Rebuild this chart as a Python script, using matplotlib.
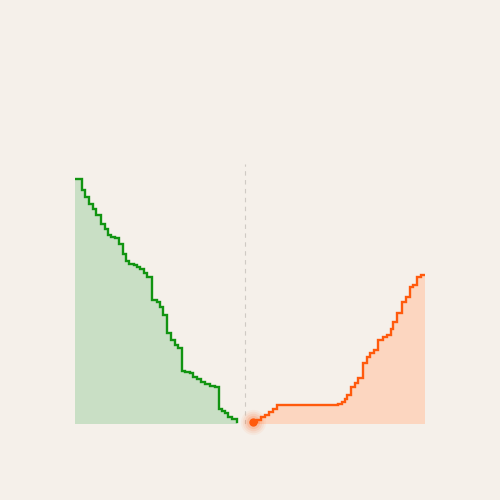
import numpy as np
import matplotlib
matplotlib.use("Agg")
import matplotlib.pyplot as plt

# order book depth (price, cumulative size)
bid_price = [91.50, 91.85, 92.02, 92.22, 92.39, 92.55, 92.82, 92.99, 93.15, 93.32,
             93.49, 93.69, 93.89, 94.05, 94.22, 94.44, 94.60, 94.77, 94.95, 95.10,
             95.37, 95.59, 95.75, 95.92, 96.12, 96.30, 96.50, 96.67, 96.84, 97.00,
             97.25, 97.42, 97.59, 97.80, 98.00, 98.25, 98.50, 98.70, 98.87, 99.00,
             99.17, 99.37, 99.59]
bid_depth = [49.0, 46.8, 45.4, 44.06, 43.06, 41.86, 40.06, 38.94, 37.74, 37.4,
             37.2, 35.94, 34.06, 32.54, 32.0, 31.74, 31.4, 30.94, 30.3, 29.5,
             24.8, 24.46, 23.46, 21.8, 18.26, 16.8, 15.8, 15.14, 10.66, 10.46,
             10.14, 9.34, 8.94, 8.46, 8.0, 7.66, 7.34, 2.94, 2.66, 2.14,
             1.46, 0.94, 0.34]

ask_price = [100.39, 100.59, 100.78, 101.00, 101.22, 101.42, 101.59, 104.67, 104.84, 105.00,
             105.12, 105.29, 105.50, 105.67, 105.89, 106.09, 106.25, 106.45, 106.67, 106.89,
             107.09, 107.29, 107.42, 107.62, 107.84, 108.04, 108.25, 108.42, 108.62, 108.79,
             108.98]
ask_depth = [0.46, 0.9, 1.4, 1.9, 2.4, 3.0, 3.8, 4.1, 4.5, 5.0,
             5.8, 7.5, 8.2, 9.2, 12.2, 13.4, 14.3, 14.8, 16.8, 17.4,
             17.8, 19.0, 20.5, 22.3, 24.5, 25.5, 27.34, 27.8, 29.34, 29.8,
             29.8]

mid_price = 100.0

BG = "#f5f0ea"
GREEN = "#119411"
GREEN_FILL = "#c9dfc5"
ORANGE = "#ff5a0d"
ORANGE_FILL = "#fcd6c0"

fig = plt.figure(figsize=(5, 5), dpi=100, facecolor=BG)
ax = fig.add_axes([0.15, 0.152, 0.70, 0.52])
ax.set_facecolor(BG)

ax.fill_between(bid_price, bid_depth, 0, step="post", color=GREEN_FILL, lw=0)
ax.fill_between(ask_price, ask_depth, 0, step="post", color=ORANGE_FILL, lw=0)
ax.step(bid_price, bid_depth, where="post", color=GREEN, lw=1.7, solid_joinstyle="miter")
ax.step(ask_price, ask_depth, where="post", color=ORANGE, lw=1.7, solid_joinstyle="miter")

ax.axvline(mid_price, color="#cfcac4", lw=0.8, dashes=(4, 4))

# best ask marker with soft glow
for s, a in [(330, 0.05), (240, 0.07), (160, 0.10), (90, 0.14)]:
    ax.scatter([ask_price[0]], [ask_depth[0]], s=s, color=ORANGE, alpha=a, lw=0,
               zorder=4, clip_on=False)
ax.scatter([ask_price[0]], [ask_depth[0]], s=36, color=ORANGE, lw=0, zorder=5, clip_on=False)

ax.set_xlim(91.5, 109.0)
ax.set_ylim(0, 52)
ax.axis("off")

fig.savefig("out.png", dpi=100, facecolor=BG)
